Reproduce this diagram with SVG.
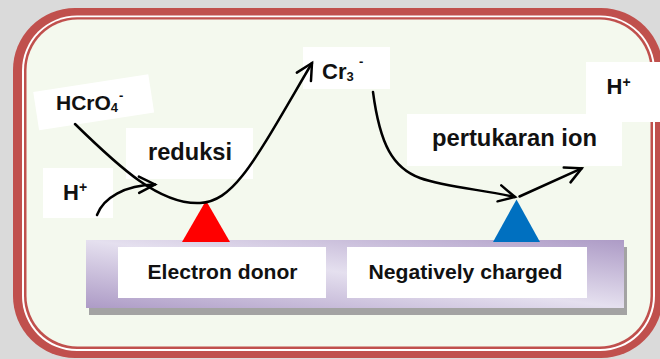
<svg xmlns="http://www.w3.org/2000/svg" width="660" height="359" viewBox="0 0 660 359">
  <defs>
    <linearGradient id="barGrad" x1="0" y1="1" x2="1" y2="0">
      <stop offset="0" stop-color="#ad9bc6"/>
      <stop offset="0.5" stop-color="#e5e0ef"/>
      <stop offset="1" stop-color="#ad9bc6"/>
    </linearGradient>
    <marker id="arrow" markerUnits="userSpaceOnUse" viewBox="-20 -12 24 24" refX="0" refY="0" markerWidth="24" markerHeight="24" orient="auto">
      <path d="M-16,-8.2 L0,0 L-16,8.2" fill="none" stroke="#000" stroke-width="2.5" stroke-linecap="round" stroke-linejoin="miter"/>
    </marker>
    <style>
      .lbl { fill: #ffffff; }
      .t { font-family: "Liberation Sans", Arial, sans-serif; font-weight: bold; fill: #111; }
      .conn { fill: none; stroke: #000; stroke-width: 2.5; stroke-linecap: round; }
    </style>
  </defs>

  <!-- background -->
  <rect x="0" y="0" width="660" height="359" fill="#dadada"/>

  <!-- frame -->
  <g id="frame">
    <rect x="13" y="8" width="650" height="350" rx="62" fill="#c0504d"/>
    <rect x="22" y="15.5" width="633" height="335.5" rx="55" fill="#ffffff"/>
    <rect x="24" y="17.2" width="629" height="331.8" rx="53" fill="#c0504d"/>
    <rect x="26.5" y="19.5" width="624" height="327" rx="51" fill="#f4f9ee"/>
  </g>

  <!-- base bar -->
  <g id="bar">
    <rect x="89" y="247" width="538" height="68" fill="#a3a3a3"/>
    <rect x="86" y="240" width="538" height="68" fill="url(#barGrad)"/>
  </g>

  <!-- triangles -->
  <g id="red-triangle">
    <polygon points="206,200.5 182,242 230,242" fill="#ff0000"/>
  </g>
  <g id="blue-triangle">
    <polygon points="516.5,199.5 493,242 540,242" fill="#0070c0"/>
  </g>

  <!-- bottom labels -->
  <g id="electron-donor">
    <rect class="lbl" x="118" y="247" width="208" height="51"/>
    <text class="t" x="222.5" y="278.5" font-size="21" text-anchor="middle" textLength="150" lengthAdjust="spacingAndGlyphs">Electron donor</text>
  </g>
  <g id="negatively-charged">
    <rect class="lbl" x="347" y="247" width="240" height="51"/>
    <text class="t" x="465.5" y="279.3" font-size="21" text-anchor="middle" textLength="194" lengthAdjust="spacingAndGlyphs">Negatively charged</text>
  </g>

  <!-- upper label boxes -->
  <g id="hcro4">
    <rect class="lbl" x="35.5" y="82.9" width="116.4" height="38.7" transform="rotate(-8.75 93.7 102.25)"/>
    <text class="t" x="56" y="110" font-size="21">HCrO<tspan font-size="13" y="112">4</tspan><tspan font-size="13" x="119" y="100">-</tspan></text>
  </g>
  <g id="h-left">
    <rect class="lbl" x="43" y="168" width="70" height="50"/>
    <text class="t" x="63" y="199.5" font-size="22">H<tspan font-size="14" y="192">+</tspan></text>
  </g>
  <g id="reduksi">
    <rect class="lbl" x="126" y="128" width="127" height="51"/>
    <text class="t" x="148" y="160" font-size="23" textLength="84" lengthAdjust="spacingAndGlyphs">reduksi</text>
  </g>
  <g id="cr3">
    <rect class="lbl" x="303" y="47" width="87" height="42"/>
    <text class="t" x="322" y="79.3" font-size="22">Cr<tspan font-size="13" y="81">3</tspan><tspan font-size="13" x="359" y="66">-</tspan></text>
  </g>
  <g id="pertukaran-ion">
    <rect class="lbl" x="407" y="114" width="215" height="52"/>
    <text class="t" x="432" y="146" font-size="23" textLength="165" lengthAdjust="spacingAndGlyphs">pertukaran ion</text>
  </g>
  <g id="h-right">
    <rect class="lbl" x="586" y="62" width="80" height="60"/>
    <text class="t" x="606.5" y="94.3" font-size="22">H<tspan font-size="14" y="86.5">+</tspan></text>
  </g>

  <!-- connectors -->
  <g id="connectors">
    <path class="conn" d="M75,124 C120,168 160,205 200,203 C235,201 255,160 312,63" marker-end="url(#arrow)"/>
    <path class="conn" d="M97,215 C103,198 125,185 155,184.5" marker-end="url(#arrow)"/>
    <path class="conn" d="M373,92 C380,145 393,168 420,178 C445,187 485,190 515,197" marker-end="url(#arrow)"/>
    <path class="conn" d="M519.5,196.5 L581.7,168.3" marker-end="url(#arrow)"/>
  </g>
</svg>
